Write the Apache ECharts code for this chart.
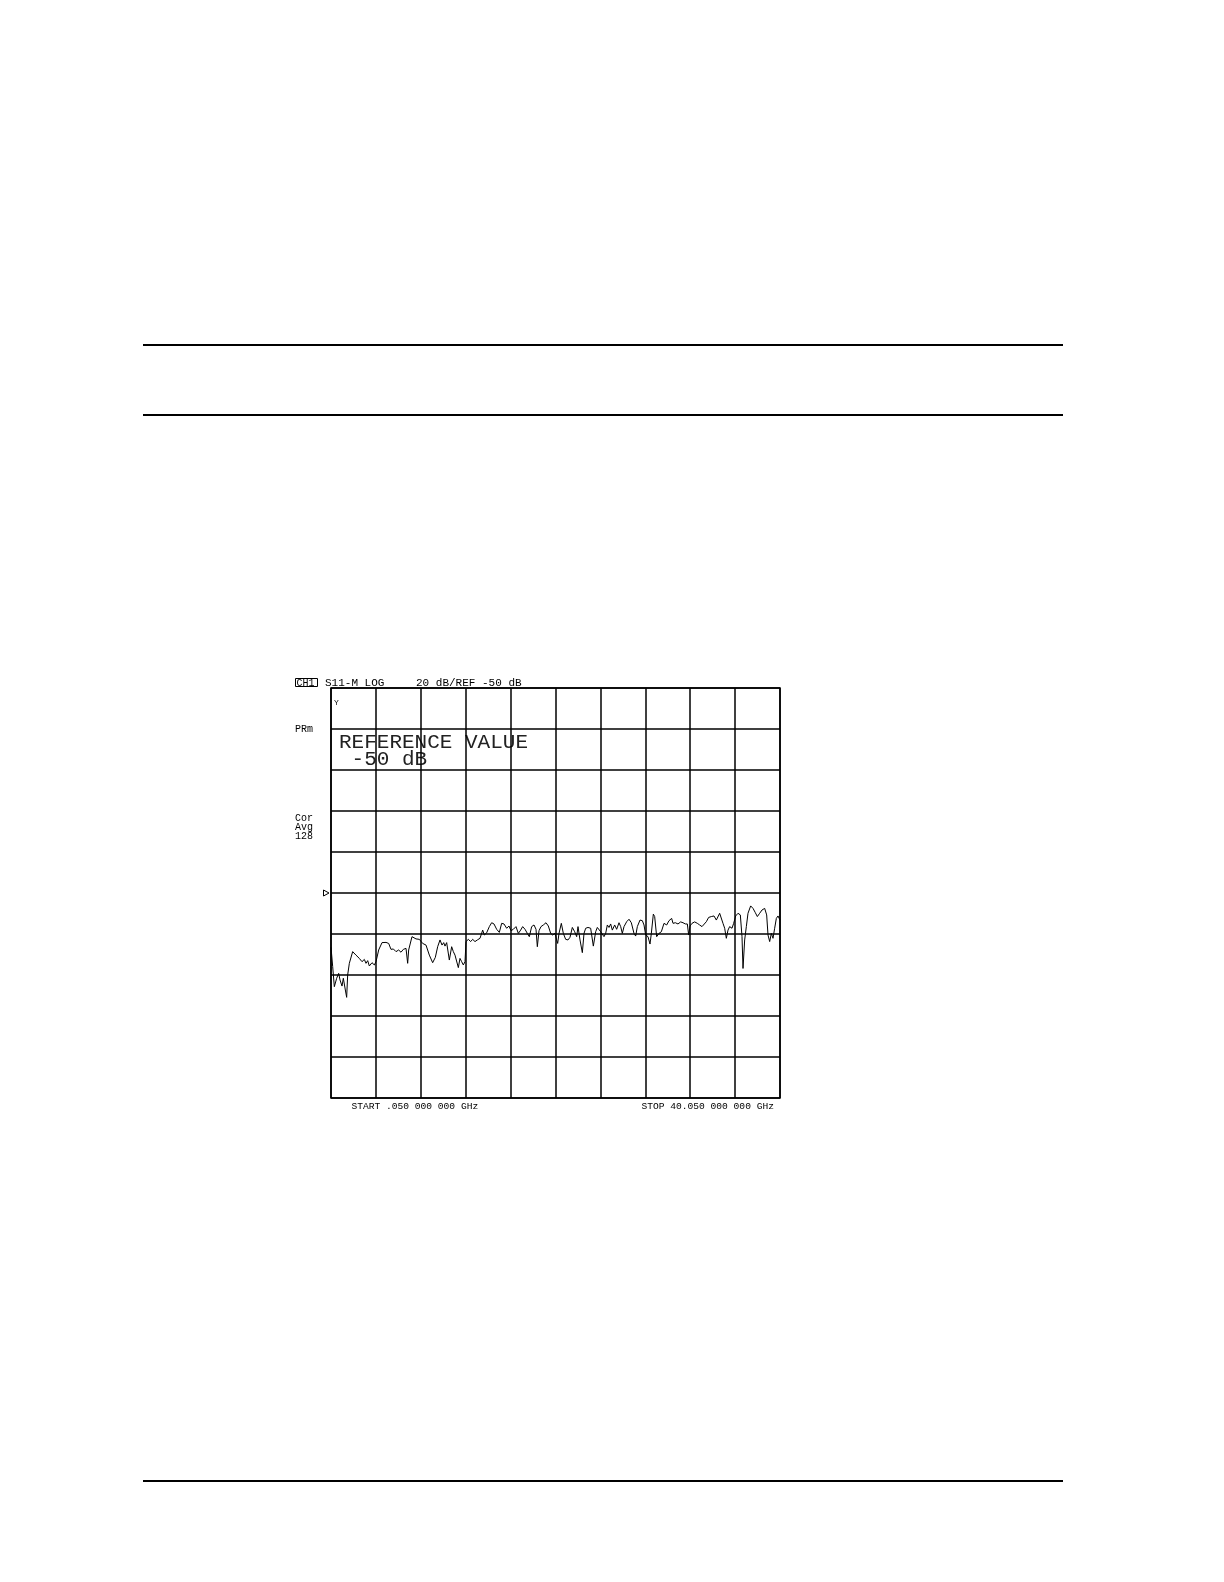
<!DOCTYPE html>
<html>
<head>
<meta charset="utf-8">
<script src="https://cdn.jsdelivr.net/npm/echarts@6/dist/echarts.min.js"></script>
<style>
html,body{margin:0;padding:0;background:#fff;}
#chart{width:1224px;height:1582px;}
</style>
</head>
<body>
<div id="chart"></div>
<script>
// Frequency (GHz) and S11 magnitude (dB)
const freqGHz = [
 0.05,0.199,0.347,0.555,0.733,0.852,1.030,1.149,1.327,1.446,1.535,1.683,1.980,2.277,2.574,2.812,3.020,3.168,3.317,3.465,3.703,3.911,4.059,4.297,4.594,4.950,5.188,5.396,5.603,5.841,6.078,6.286,6.494,6.732,6.880,6.969,7.266,7.415,7.623,7.920,8.216,8.513,8.810,9.107,9.345,9.553,9.761,9.939,10.088,
 10.206,10.354,10.592,10.800,10.948,11.097,11.245,11.394,11.542,11.691,11.839,11.988,12.077,12.285,12.493,12.671,12.879,13.086,13.324,13.562,13.710,13.918,14.155,14.363,14.571,14.809,15.046,15.254,15.462,15.700,15.907,16.086,16.294,16.531,16.739,16.947,17.125,17.333,17.541,17.719,17.927,18.135,18.313,18.432,18.580,18.758,18.966,19.204,19.412,19.620,19.799,20.006,20.155,20.243,
 20.362,20.570,20.748,20.956,21.164,21.342,21.550,21.758,21.936,22.055,22.233,22.441,22.589,22.738,22.945,23.183,23.421,23.628,23.777,23.925,24.074,24.222,24.371,24.519,24.668,24.816,24.965,25.113,25.321,25.499,25.707,25.856,26.004,26.153,26.390,26.598,26.806,27.043,27.192,27.340,27.578,27.786,27.935,28.083,28.291,28.469,28.588,28.766,28.885,29.063,29.271,29.479,29.716,29.954,30.161,30.399,
 30.518,30.726,30.963,31.201,31.409,31.616,31.795,31.913,32.032,32.210,32.448,32.686,32.893,33.101,33.279,33.487,33.695,33.933,34.170,34.378,34.527,34.675,34.824,34.972,35.121,35.269,35.418,35.566,35.774,35.922,36.101,36.308,36.516,36.665,36.754,36.902,37.051,37.199,37.437,37.645,37.853,38.031,38.239,38.447,38.684,38.862,38.981,39.130,39.278,39.427,39.575,39.724,39.872,40.05
];
const s11dB = [
 -76.5,-85.9,-95.7,-91.6,-89.2,-92.4,-95.4,-91.6,-97.3,-100.9,-90.0,-84.3,-78.6,-80.3,-81.9,-83.5,-82.4,-84.3,-83.0,-85.6,-84.0,-85.1,-83.5,-77.8,-74.2,-74.1,-74.6,-77.5,-77.3,-78.6,-77.8,-78.9,-77.5,-77.0,-84.3,-77.8,-71.3,-71.0,-72.4,-72.6,-74.6,-75.4,-80.3,-84.0,-81.4,-76.2,-72.9,-75.4,-74.2,
 -75.9,-74.2,-82.7,-76.2,-78.6,-80.3,-79.4,-86.4,-81.9,-83.5,-85.1,-83.5,-73.7,-72.6,-73.7,-72.6,-73.7,-72.9,-72.1,-68.1,-70.5,-69.4,-66.4,-64.5,-65.1,-67.7,-69.2,-64.8,-65.1,-67.2,-66.1,-68.4,-67.7,-66.4,-69.7,-68.1,-66.4,-67.7,-69.7,-71.3,-66.4,-65.6,-67.7,-76.2,-68.4,-66.4,-65.6,-64.5,-66.1,-69.7,-70.5,-69.7,-72.9,-74.6,
 -69.7,-64.8,-69.7,-72.6,-72.9,-71.6,-66.8,-68.9,-71.3,-66.4,-72.9,-79.1,-69.7,-67.2,-66.8,-67.2,-75.9,-68.9,-66.8,-67.2,-68.9,-69.7,-71.3,-69.7,-65.6,-66.8,-65.1,-68.1,-65.6,-67.7,-64.5,-66.4,-69.7,-66.4,-64.0,-62.8,-64.5,-69.7,-71.0,-66.4,-63.2,-63.5,-65.6,-70.5,-71.3,-74.9,-69.7,-60.3,-61.5,-71.3,-69.7,-68.9,-64.8,-65.6,-63.5,-62.4,
 -64.8,-64.5,-65.1,-64.1,-64.5,-65.1,-65.1,-70.5,-66.1,-64.8,-64.1,-64.8,-65.6,-66.4,-65.6,-64.0,-61.9,-61.5,-61.2,-63.2,-64.0,-59.9,-59.1,-64.8,-67.2,-72.1,-68.1,-66.4,-67.2,-64.8,-61.2,-59.9,-60.7,-71.3,-86.8,-72.9,-66.4,-59.9,-56.3,-57.5,-59.6,-61.5,-59.9,-58.3,-57.5,-60.7,-70.5,-73.7,-69.7,-72.1,-67.2,-62.4,-61.2,-63.2
];
const headerLeft = 'S11-M LOG';
const headerRight = '20 dB/REF -50 dB';
const channelLabel = 'CH1';
const sideLabels = ['PRm', 'Cor', 'Avg', '128'];
const refText = ['REFERENCE VALUE', ' -50 dB'];
const startLabel = 'START .050 000 000 GHz';
const stopLabel = 'STOP 40.050 000 000 GHz';

const traceData = freqGHz.map((f, i) => [f, s11dB[i]]);

const chart = echarts.init(document.getElementById('chart'), null, {renderer: 'canvas'});
const mono = '"Liberation Mono","DejaVu Sans Mono",monospace';
const GL = 331, GT = 688, GW = 449, GH = 410;

chart.setOption({
  backgroundColor: '#ffffff',
  animation: false,
  grid: {left: GL, top: GT, width: GW, height: GH, show: true, borderColor: '#000', borderWidth: 1.5, backgroundColor: 'transparent'},
  xAxis: [
    {type: 'value', min: 0.05, max: 40.05, show: false, splitLine: {show: false}},
    {type: 'value', min: 0, max: 10, interval: 1, position: 'bottom',
     axisLine: {show: false}, axisTick: {show: false}, axisLabel: {show: false},
     splitLine: {show: true, lineStyle: {color: '#000', width: 1.5}}}
  ],
  yAxis: [
    {type: 'value', min: -150, max: 50, show: false, splitLine: {show: false}},
    {type: 'value', min: 0, max: 10, interval: 1,
     axisLine: {show: false}, axisTick: {show: false}, axisLabel: {show: false},
     splitLine: {show: true, lineStyle: {color: '#000', width: 1.5}}}
  ],
  series: [{
    type: 'line', xAxisIndex: 0, yAxisIndex: 0, data: traceData,
    showSymbol: false, symbol: 'none', smooth: false,
    lineStyle: {color: '#000', width: 1}
  }],
  graphic: [
    {type: 'line', shape: {x1: 143, y1: 345, x2: 1063, y2: 345}, style: {stroke: '#000', lineWidth: 2}},
    {type: 'line', shape: {x1: 143, y1: 415, x2: 1063, y2: 415}, style: {stroke: '#000', lineWidth: 2}},
    {type: 'line', shape: {x1: 143, y1: 1481, x2: 1063, y2: 1481}, style: {stroke: '#000', lineWidth: 2}},
    {type: 'rect', shape: {x: 295.5, y: 678.5, width: 22, height: 8}, style: {fill: 'none', stroke: '#000', lineWidth: 1}},
    {type: 'text', style: {x: 296.5, y: 683, text: channelLabel, font: '10px ' + mono, fill: '#000', verticalAlign: 'middle'}},
    {type: 'text', style: {x: 325, y: 683, text: headerLeft, font: '11px ' + mono, fill: '#000', verticalAlign: 'middle'}},
    {type: 'text', style: {x: 416, y: 683, text: headerRight, font: '11px ' + mono, fill: '#000', verticalAlign: 'middle'}},
    {type: 'text', style: {x: 295, y: 729.5, text: sideLabels[0], font: '10px ' + mono, fill: '#000', verticalAlign: 'middle'}},
    {type: 'text', style: {x: 295, y: 818.5, text: sideLabels[1], font: '10px ' + mono, fill: '#000', verticalAlign: 'middle'}},
    {type: 'text', style: {x: 295, y: 827.5, text: sideLabels[2], font: '10px ' + mono, fill: '#000', verticalAlign: 'middle'}},
    {type: 'text', style: {x: 295, y: 836.5, text: sideLabels[3], font: '10px ' + mono, fill: '#000', verticalAlign: 'middle'}},
    {type: 'polygon', shape: {points: [[323.5, 890], [329, 893], [323.5, 896]]}, style: {fill: '#fff', stroke: '#000', lineWidth: 1}},
    {type: 'text', style: {x: 334, y: 702.5, text: 'Y', font: '8px ' + mono, fill: '#000', verticalAlign: 'middle'}},
    {type: 'text', style: {x: 339, y: 742, text: refText[0], font: '21px ' + mono, fill: '#222', verticalAlign: 'middle'}},
    {type: 'text', style: {x: 339, y: 759, text: refText[1], font: '21px ' + mono, fill: '#222', verticalAlign: 'middle'}},
    {type: 'text', style: {x: 351.5, y: 1106, text: startLabel, font: '9.6px ' + mono, fill: '#000', verticalAlign: 'middle'}},
    {type: 'text', style: {x: 641.5, y: 1106, text: stopLabel, font: '9.6px ' + mono, fill: '#000', verticalAlign: 'middle'}}
  ]
});
</script>
</body>
</html>
